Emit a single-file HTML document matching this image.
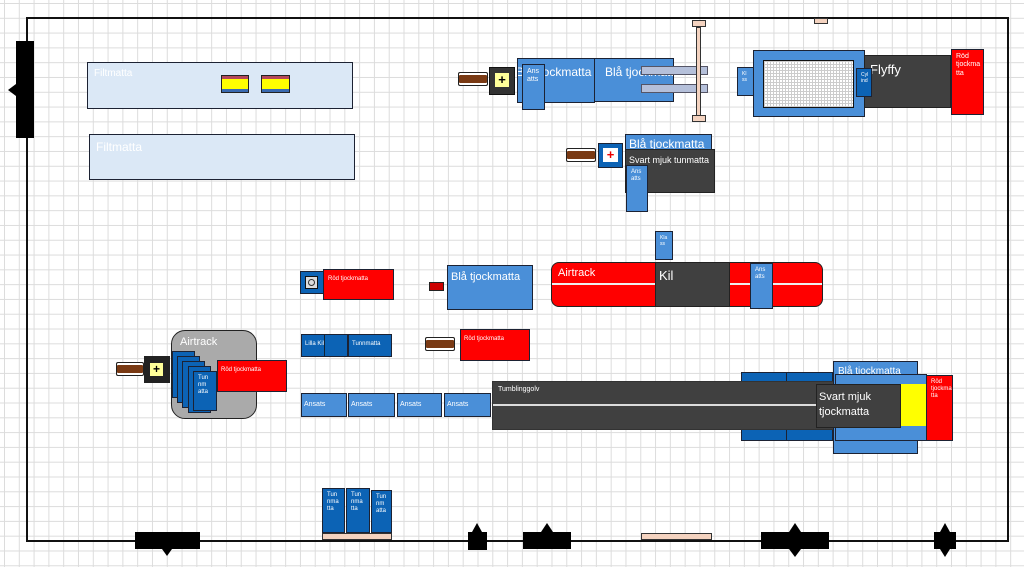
<!DOCTYPE html>
<html><head><meta charset="utf-8"><style>
html,body{margin:0;padding:0;}
body{width:1024px;height:567px;position:relative;overflow:hidden;background-color:#fff;
background-image:linear-gradient(#dcdcdc 1px,transparent 1px),linear-gradient(90deg,#dcdcdc 1px,transparent 1px);
background-size:14.8px 14.8px;background-position:4px 3px;font-family:"Liberation Sans",sans-serif;}
.a{position:absolute;box-sizing:border-box;}
.b{border:1.5px solid #1c2233;}
.lb{background:#4a8fd8;}
.db{background:#0c63b5;}
.rd{background:#ff0000;}
.dg{background:#404040;}
.t{color:#fff;font-size:8px;padding:3px 4px;line-height:1.2;}
.nw{white-space:nowrap;overflow:hidden;}
.brown{background:#7a3a14;border:1.5px solid #222;border-radius:2px;box-shadow:inset 0 2px 0 #fff,inset 0 -2px 0 #fff;}
.blk{background:#000;}
.tan{background:#f4d3c0;border:1.5px solid #333;}
</style></head><body>
<div class="a" style="left:26px;top:17px;width:983px;height:525px;border:2px solid #111;"></div>

<div class="a blk" style="left:16px;top:41px;width:18px;height:97px;"></div>
<div class="a" style="left:8px;top:84px;width:0;height:0;border-top:6px solid transparent;border-bottom:6px solid transparent;border-right:8px solid #000;"></div>

<div class="a b" style="left:87px;top:62px;width:266px;height:47px;background:#dbe8f6;color:#fff;font-size:10px;padding:5px 6px;">Filtmatta</div>
<div class="a b" style="left:89px;top:134px;width:266px;height:46px;background:#dbe8f6;color:#fff;font-size:12px;padding:5px 6px;">Filtmatta</div>
<div class="a" style="left:221px;top:75px;width:28px;height:18px;background:#ffff00;border:1px solid #222;box-shadow:inset 0 3px 0 #b5485a,inset 0 -3px 0 #3a6ab0;"></div>
<div class="a" style="left:261px;top:75px;width:29px;height:18px;background:#ffff00;border:1px solid #222;box-shadow:inset 0 3px 0 #b5485a,inset 0 -3px 0 #3a6ab0;"></div>

<div class="a brown" style="left:458px;top:72px;width:30px;height:14px;"></div>
<div class="a" style="left:489px;top:67px;width:26px;height:28px;background:#333;border:1px solid #111;"></div>
<div class="a" style="left:495px;top:73px;width:14px;height:14px;background:#ffff99;color:#000;font-size:13px;font-weight:bold;line-height:14px;text-align:center;">+</div>
<div class="a b lb nw" style="left:517px;top:58px;width:78px;height:45px;"><div class="a" style="left:-2px;top:6px;color:#fff;font-size:12px;">Blå tjockmatta</div></div>
<div class="a b lb nw" style="left:594px;top:58px;width:80px;height:44px;color:#fff;font-size:12px;padding:6px 10px;">Blå tjockmatta</div>
<div class="a b lb t" style="left:522px;top:64px;width:23px;height:46px;font-size:7px;">Ans atts</div>
<div class="a" style="left:641px;top:66px;width:67px;height:9px;background:#b5c0da;border:1px solid #556;"></div>
<div class="a" style="left:641px;top:84px;width:67px;height:9px;background:#b5c0da;border:1px solid #556;"></div>
<div class="a" style="left:696px;top:27px;width:5px;height:89px;background:#f4d3c0;border:1px solid #333;"></div>
<div class="a tan" style="left:692px;top:20px;width:14px;height:7px;"></div>
<div class="a tan" style="left:692px;top:115px;width:14px;height:7px;"></div>
<div class="a tan" style="left:814px;top:18px;width:14px;height:6px;"></div>

<div class="a b lb" style="left:753px;top:50px;width:112px;height:67px;"></div>
<div class="a" style="left:763px;top:60px;width:91px;height:48px;border:1.5px solid #111;background-color:#fff;background-image:linear-gradient(#ccc 1px,transparent 1px),linear-gradient(90deg,#ccc 1px,transparent 1px);background-size:3px 3px;"></div>
<div class="a b lb t" style="left:737px;top:67px;width:17px;height:29px;font-size:5px;">Kl ss</div>
<div class="a dg" style="left:864px;top:55px;width:87px;height:53px;border:1px solid #222;color:#fff;font-size:13px;padding:6px 5px;">Flyffy</div>
<div class="a b db t" style="left:856px;top:68px;width:16px;height:29px;font-size:5px;">Cyl ind</div>
<div class="a b rd t" style="left:951px;top:49px;width:33px;height:66px;font-size:7px;">Röd tjockma tta</div>

<div class="a brown" style="left:566px;top:148px;width:30px;height:14px;"></div>
<div class="a b db" style="left:598px;top:143px;width:25px;height:25px;"></div>
<div class="a" style="left:603px;top:148px;width:15px;height:14px;background:#fff;color:#e00;font-size:13px;font-weight:bold;line-height:14px;text-align:center;">+</div>
<div class="a b lb nw" style="left:625px;top:134px;width:87px;height:20px;color:#fff;font-size:12px;padding:2px 3px;">Blå tjockmatta</div>
<div class="a dg nw" style="left:625px;top:149px;width:90px;height:44px;border:1.5px solid #222;color:#fff;font-size:9px;padding:5px 3px;">Svart mjuk tunmatta</div>
<div class="a b lb t" style="left:626px;top:165px;width:22px;height:47px;font-size:6px;">Ans atts</div>

<div class="a b lb t" style="left:655px;top:231px;width:18px;height:29px;font-size:5px;">Kla ss</div>
<div class="a rd" style="left:551px;top:262px;width:272px;height:45px;border:1.5px solid #222;border-radius:8px;"></div>
<div class="a" style="left:552px;top:283px;width:270px;height:2px;background:#eee;"></div>
<div class="a" style="left:558px;top:267px;color:#fff;font-size:11px;">Airtrack</div>
<div class="a dg" style="left:655px;top:262px;width:75px;height:45px;border:1px solid #222;color:#fff;font-size:13px;padding:5px 3px;">Kil</div>
<div class="a b lb t" style="left:750px;top:263px;width:23px;height:46px;font-size:6px;">Ans atts</div>

<div class="a b db" style="left:300px;top:271px;width:24px;height:23px;"></div>
<div class="a" style="left:305px;top:276px;width:13px;height:13px;background:#ddd;border:1px solid #111;"></div>
<div class="a" style="left:308px;top:279px;width:7px;height:7px;border-radius:50%;border:1.5px solid #333;box-sizing:border-box;"></div>
<div class="a b rd t nw" style="left:323px;top:269px;width:71px;height:31px;font-size:6px;padding:6px 4px;">Röd tjockmatta</div>
<div class="a" style="left:429px;top:282px;width:15px;height:9px;background:#c00;border:1px solid #222;"></div>
<div class="a b lb nw" style="left:447px;top:265px;width:86px;height:45px;color:#fff;font-size:11px;padding:5px 3px;">Blå tjockmatta</div>

<div class="a b db t nw" style="left:301px;top:334px;width:47px;height:23px;font-size:6px;padding:6px 3px;">Lilla Kil</div>
<div class="a" style="left:324px;top:335px;width:1px;height:21px;background:#123;"></div>
<div class="a b db t nw" style="left:348px;top:334px;width:44px;height:23px;font-size:6px;padding:6px 3px;">Tunnmatta</div>
<div class="a brown" style="left:425px;top:337px;width:30px;height:14px;"></div>
<div class="a b rd t nw" style="left:460px;top:329px;width:70px;height:32px;font-size:6px;padding:6px 3px;">Röd tjockmatta</div>

<div class="a brown" style="left:116px;top:362px;width:28px;height:14px;"></div>
<div class="a" style="left:144px;top:356px;width:26px;height:27px;background:#222;"></div>
<div class="a" style="left:150px;top:363px;width:13px;height:13px;background:#ffff99;color:#000;font-size:12px;font-weight:bold;line-height:13px;text-align:center;">+</div>
<div class="a" style="left:171px;top:330px;width:86px;height:89px;background:#aaaaaa;border:1.5px solid #222;border-radius:14px;"></div>
<div class="a" style="left:180px;top:336px;color:#fff;font-size:11px;">Airtrack</div>
<div class="a b db" style="left:172px;top:351px;width:23px;height:47px;"></div>
<div class="a b db" style="left:177px;top:356px;width:23px;height:47px;"></div>
<div class="a b db" style="left:182px;top:361px;width:23px;height:47px;"></div>
<div class="a b db" style="left:188px;top:366px;width:23px;height:47px;"></div>
<div class="a b db t" style="left:193px;top:371px;width:24px;height:40px;font-size:6px;">Tun nm atta</div>
<div class="a b rd t nw" style="left:217px;top:360px;width:70px;height:32px;font-size:6px;padding:6px 3px;">Röd tjockmatta</div>

<div class="a b lb t" style="left:301px;top:393px;width:46px;height:24px;font-size:7px;padding:7px 2px;">Ansats</div>
<div class="a b lb t" style="left:348px;top:393px;width:47px;height:24px;font-size:7px;padding:7px 2px;">Ansats</div>
<div class="a b lb t" style="left:397px;top:393px;width:45px;height:24px;font-size:7px;padding:7px 2px;">Ansats</div>
<div class="a b lb t" style="left:444px;top:393px;width:47px;height:24px;font-size:7px;padding:7px 2px;">Ansats</div>

<div class="a b db" style="left:741px;top:372px;width:46px;height:14px;"></div>
<div class="a b db" style="left:786px;top:372px;width:47px;height:14px;"></div>
<div class="a b db" style="left:741px;top:427px;width:46px;height:14px;"></div>
<div class="a b db" style="left:786px;top:427px;width:47px;height:14px;"></div>
<div class="a dg" style="left:492px;top:381px;width:344px;height:49px;border:1px solid #333;"></div>
<div class="a" style="left:493px;top:404px;width:342px;height:2px;background:#ddd;"></div>
<div class="a" style="left:498px;top:386px;color:#fff;font-size:7px;">Tumblinggolv</div>
<div class="a b lb nw" style="left:833px;top:361px;width:85px;height:93px;color:#fff;font-size:10px;padding:4px 4px;overflow:hidden;">Blå tjockmatta</div>
<div class="a b lb" style="left:835px;top:374px;width:92px;height:67px;"></div>
<div class="a" style="left:900px;top:384px;width:26px;height:42px;background:#ffff00;"></div>
<div class="a b rd t" style="left:926px;top:375px;width:27px;height:66px;font-size:6px;">Röd tjockma tta</div>
<div class="a dg" style="left:816px;top:384px;width:85px;height:44px;border:1.5px solid #222;color:#fff;font-size:11px;padding:5px 2px;line-height:15px;">Svart mjuk tjockmatta</div>

<div class="a b db t" style="left:322px;top:488px;width:23px;height:45px;font-size:6px;">Tun nma tta</div>
<div class="a b db t" style="left:346px;top:488px;width:24px;height:45px;font-size:6px;">Tun nma tta</div>
<div class="a b db t" style="left:371px;top:490px;width:21px;height:43px;font-size:6px;">Tun nm atta</div>
<div class="a tan" style="left:322px;top:533px;width:70px;height:7px;"></div>
<div class="a tan" style="left:641px;top:533px;width:71px;height:7px;"></div>

<div class="a blk" style="left:135px;top:532px;width:65px;height:17px;"></div>
<div class="a" style="left:162px;top:549px;border-left:5px solid transparent;border-right:5px solid transparent;border-top:7px solid #000;"></div>
<div class="a blk" style="left:468px;top:532px;width:19px;height:18px;"></div>
<div class="a" style="left:472px;top:523px;border-left:5px solid transparent;border-right:5px solid transparent;border-bottom:9px solid #000;"></div>
<div class="a blk" style="left:523px;top:532px;width:48px;height:17px;"></div>
<div class="a" style="left:541px;top:523px;border-left:6px solid transparent;border-right:6px solid transparent;border-bottom:9px solid #000;"></div>
<div class="a blk" style="left:761px;top:532px;width:68px;height:17px;"></div>
<div class="a" style="left:789px;top:523px;border-left:6px solid transparent;border-right:6px solid transparent;border-bottom:9px solid #000;"></div>
<div class="a" style="left:789px;top:549px;border-left:6px solid transparent;border-right:6px solid transparent;border-top:8px solid #000;"></div>
<div class="a blk" style="left:934px;top:532px;width:22px;height:17px;"></div>
<div class="a" style="left:940px;top:523px;border-left:5px solid transparent;border-right:5px solid transparent;border-bottom:9px solid #000;"></div>
<div class="a" style="left:940px;top:549px;border-left:5px solid transparent;border-right:5px solid transparent;border-top:8px solid #000;"></div>
</body></html>
